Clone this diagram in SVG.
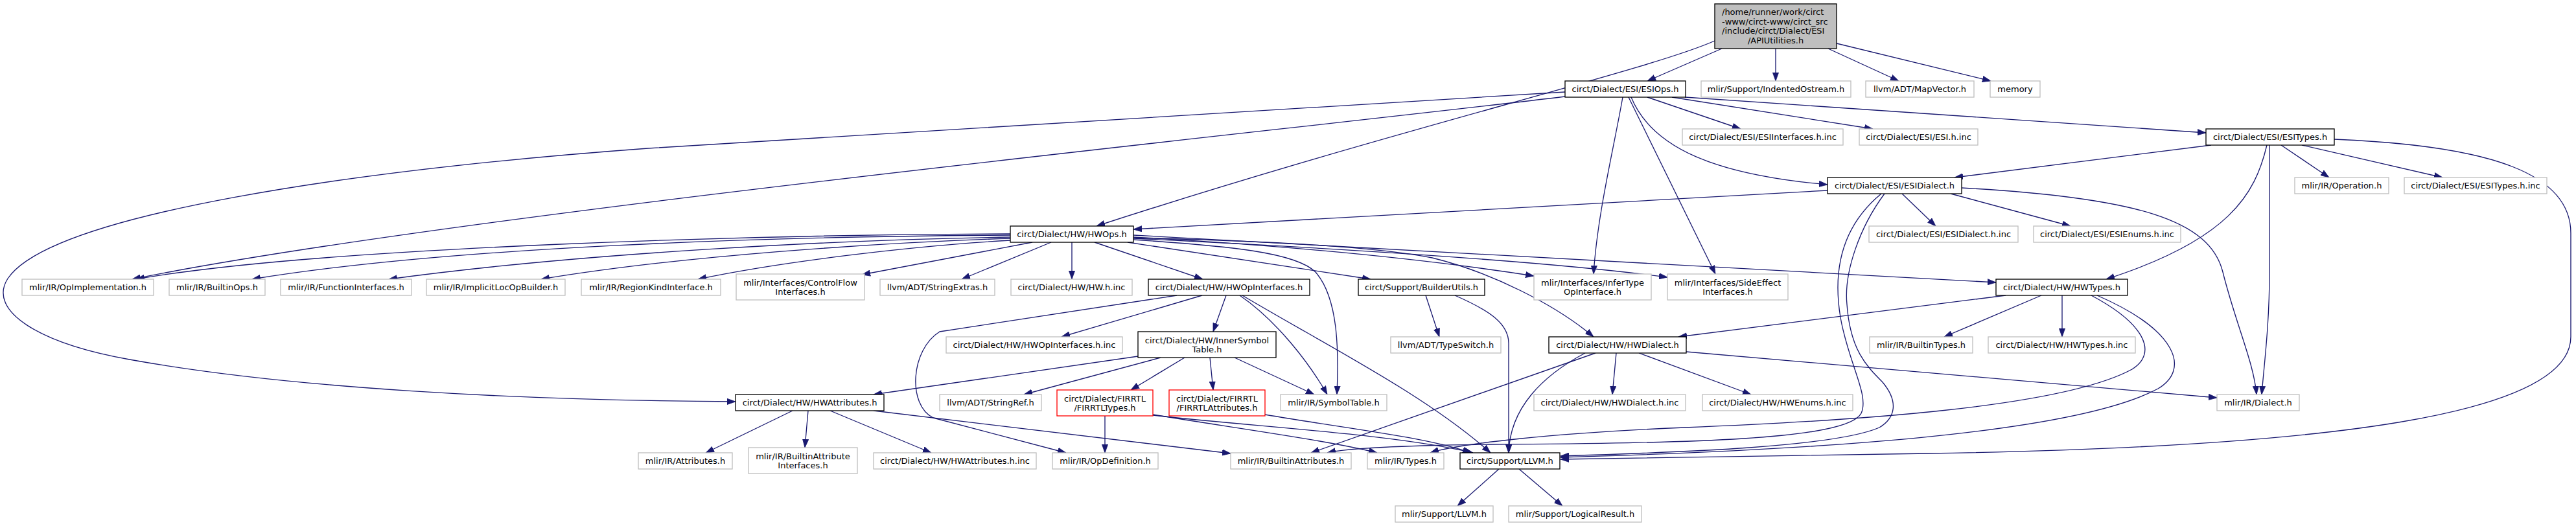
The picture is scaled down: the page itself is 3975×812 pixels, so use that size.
<svg xmlns="http://www.w3.org/2000/svg" width="3975" height="812" viewBox="0 0 3975 812">
<style>
.n rect{fill:#ffffff;stroke:#bfbfbf;stroke-width:1.33}
.d rect{stroke:#000000}
.r rect{stroke:#ff0000}
.root rect{fill:#bfbfbf;stroke:#000000}
text{font-family:"DejaVu Sans","Liberation Sans",sans-serif;font-size:13px;fill:#000000;text-anchor:middle}
text.l{text-anchor:start}
#edges path{fill:none;stroke:#191970;stroke-width:1.33;marker-end:url(#ah)}
</style>
<defs>
<marker id="ah" viewBox="0 0 13 10" refX="13" refY="5" markerWidth="13" markerHeight="10" markerUnits="userSpaceOnUse" orient="auto">
<path d="M0,0.4 L13,5 L0,9.6 z" fill="#191970" stroke="#191970" stroke-width="0.8"/>
</marker>
</defs>
<rect width="3975" height="812" fill="#ffffff"/>
<g id="edges">
<path d="M2657,75 L2542,125"/>
<path d="M2740,75 L2740,125"/>
<path d="M2821,75 L2930,125"/>
<path d="M2834,67 L3072,125"/>
<path d="M2646,63 C2540,110 2150,200 1692,349"/>
<path d="M2542,150 L2686,199"/>
<path d="M2580,150 L2890,199"/>
<path d="M2600,150 L3404,205"/>
<path d="M2517,150 C2550,230 2650,270 2820,285"/>
<path d="M2504,150 C2490,230 2465,330 2459,423"/>
<path d="M2513,150 L2647,423"/>
<path d="M2415,149 C2000,200 700,330 204,431"/>
<path d="M2415,142 C1900,172 1400,200 1000,229 C550,262 80,330 12,430 C-20,480 60,530 200,555 C450,600 800,618 1135,620"/>
<path d="M3412,224 L3016,274"/>
<path d="M3520,224 L3594,274"/>
<path d="M3552,224 L3769,274"/>
<path d="M3498,224 C3480,300 3440,370 3250,431"/>
<path d="M3502,224 L3502,420 C3502,500 3494,560 3490,609"/>
<path d="M3602,215 C3850,225 3967,270 3967,360 L3967,520 C3967,640 3600,690 2975,700 L2408,709"/>
<path d="M2935,299 L2987,349"/>
<path d="M3010,299 L3195,349"/>
<path d="M2820,294 L1749,354"/>
<path d="M3027,290 C3300,305 3410,340 3430,420 C3450,500 3478,560 3482,609"/>
<path d="M2903,299 C2835,355 2830,430 2840,490 C2852,560 2885,610 2872,638 C2850,680 2600,684 2300,686 C2150,688 2080,692 2048,699"/>
<path d="M2908,299 C2870,350 2845,420 2850,470 C2855,540 2880,565 2905,590 C2930,620 2925,645 2900,660 C2830,690 2600,698 2408,704"/>
<path d="M1559,361 C1200,362 500,380 210,431"/>
<path d="M1559,363 C1200,365 700,380 389,431"/>
<path d="M1559,366 C1300,370 900,390 600,431"/>
<path d="M1559,368 C1350,375 1050,395 835,431"/>
<path d="M1559,371 C1400,380 1200,405 1077,431"/>
<path d="M1593,374 L1330,424"/>
<path d="M1622,374 L1484,431"/>
<path d="M1654,374 L1654,431"/>
<path d="M1689,374 L1856,431"/>
<path d="M1740,374 L2115,431"/>
<path d="M1749,366 C2000,380 2200,400 2367,426"/>
<path d="M1749,368 C2100,385 2400,405 2573,428"/>
<path d="M1749,363 L3080,436"/>
<path d="M1749,367 C1950,372 2120,380 2210,398 C2300,420 2400,470 2459,520"/>
<path d="M1749,370 C1900,380 2000,390 2030,420 C2065,460 2066,540 2063,609"/>
<path d="M1855,456 L1638,520"/>
<path d="M1892,456 L1872,512"/>
<path d="M1816,456 L1450,512 C1405,540 1400,625 1440,645 L1645,699"/>
<path d="M1913,456 C1970,495 2020,560 2048,609"/>
<path d="M1917,456 C2050,535 2200,610 2300,699"/>
<path d="M1756,550 L1348,609"/>
<path d="M1791,552 L1580,609"/>
<path d="M1828,552 L1745,602"/>
<path d="M1867,552 L1872,602"/>
<path d="M1905,552 L2028,609"/>
<path d="M1705,642 L1705,699"/>
<path d="M1779,640 C1900,660 2050,680 2125,699"/>
<path d="M1779,641 C1950,660 2150,670 2273,699"/>
<path d="M1952,640 C2100,665 2200,675 2270,699"/>
<path d="M1223,634 L1089,699"/>
<path d="M1247,634 L1242,691"/>
<path d="M1281,634 L1437,699"/>
<path d="M1348,634 L1899,700"/>
<path d="M2200,456 L2221,520"/>
<path d="M2245,456 C2300,480 2328,500 2328,530 L2328,699"/>
<path d="M2494,545 L2488,609"/>
<path d="M2529,545 L2702,609"/>
<path d="M2602,543 L3421,614"/>
<path d="M2462,545 L2023,699"/>
<path d="M2446,545 C2380,580 2330,630 2328,699"/>
<path d="M3095,456 L2590,520"/>
<path d="M3150,456 L3000,520"/>
<path d="M3182,456 L3182,520"/>
<path d="M3227,456 C3310,500 3330,545 3290,570 C3180,630 2850,650 2600,660 C2400,668 2250,685 2207,699"/>
<path d="M3236,456 C3360,510 3380,570 3330,600 C3200,670 2800,695 2408,706"/>
<path d="M2313,724 L2249,781"/>
<path d="M2344,724 L2411,781"/>
</g>
<g id="root" class="n root"><rect x="2646" y="6" width="188" height="69"/><text class="l" x="2657" y="23">/home/runner/work/circt</text><text class="l" x="2657" y="37.5">-www/circt-www/circt_src</text><text class="l" x="2657" y="52">/include/circt/Dialect/ESI</text><text x="2740" y="66.5">/APIUtilities.h</text></g>
<g id="esiops" class="n d"><rect x="2415" y="125" width="186" height="25"/><text x="2508" y="142">circt/Dialect/ESI/ESIOps.h</text></g>
<g id="indented" class="n"><rect x="2625" y="125" width="231" height="25"/><text x="2740.5" y="142">mlir/Support/IndentedOstream.h</text></g>
<g id="mapvector" class="n"><rect x="2879" y="125" width="167" height="25"/><text x="2962.5" y="142">llvm/ADT/MapVector.h</text></g>
<g id="memory" class="n"><rect x="3071" y="125" width="77" height="25"/><text x="3109.5" y="142">memory</text></g>
<g id="esiinterfaces" class="n"><rect x="2596" y="199" width="248" height="25"/><text x="2720" y="216">circt/Dialect/ESI/ESIInterfaces.h.inc</text></g>
<g id="esihinc" class="n"><rect x="2869" y="199" width="183" height="25"/><text x="2960.5" y="216">circt/Dialect/ESI/ESI.h.inc</text></g>
<g id="esitypes" class="n d"><rect x="3404" y="199" width="198" height="25"/><text x="3503" y="216">circt/Dialect/ESI/ESITypes.h</text></g>
<g id="esidialect" class="n d"><rect x="2820" y="274" width="207" height="25"/><text x="2923.5" y="291">circt/Dialect/ESI/ESIDialect.h</text></g>
<g id="operation" class="n"><rect x="3541" y="274" width="145" height="25"/><text x="3613.5" y="291">mlir/IR/Operation.h</text></g>
<g id="esitypesinc" class="n"><rect x="3710" y="274" width="220" height="25"/><text x="3820" y="291">circt/Dialect/ESI/ESITypes.h.inc</text></g>
<g id="esidialectinc" class="n"><rect x="2884" y="349" width="230" height="25"/><text x="2999" y="366">circt/Dialect/ESI/ESIDialect.h.inc</text></g>
<g id="esienums" class="n"><rect x="3138" y="349" width="227" height="25"/><text x="3251.5" y="366">circt/Dialect/ESI/ESIEnums.h.inc</text></g>
<g id="hwops" class="n d"><rect x="1559" y="349" width="190" height="25"/><text x="1654" y="366">circt/Dialect/HW/HWOps.h</text></g>
<g id="opimpl" class="n"><rect x="34" y="431" width="203" height="25"/><text x="135.5" y="448">mlir/IR/OpImplementation.h</text></g>
<g id="builtinops" class="n"><rect x="261" y="431" width="148" height="25"/><text x="335" y="448">mlir/IR/BuiltinOps.h</text></g>
<g id="funcif" class="n"><rect x="433" y="431" width="202" height="25"/><text x="534" y="448">mlir/IR/FunctionInterfaces.h</text></g>
<g id="implicitloc" class="n"><rect x="658" y="431" width="214" height="25"/><text x="765" y="448">mlir/IR/ImplicitLocOpBuilder.h</text></g>
<g id="regionkind" class="n"><rect x="897" y="431" width="215" height="25"/><text x="1004.5" y="448">mlir/IR/RegionKindInterface.h</text></g>
<g id="controlflow" class="n"><rect x="1136" y="423" width="198" height="40"/><text x="1235" y="440.5">mlir/Interfaces/ControlFlow</text><text x="1235" y="454.5">Interfaces.h</text></g>
<g id="stringextras" class="n"><rect x="1358" y="431" width="177" height="25"/><text x="1446.5" y="448">llvm/ADT/StringExtras.h</text></g>
<g id="hwhinc" class="n"><rect x="1560" y="431" width="187" height="25"/><text x="1653.5" y="448">circt/Dialect/HW/HW.h.inc</text></g>
<g id="hwopif" class="n d"><rect x="1772" y="431" width="249" height="25"/><text x="1896.5" y="448">circt/Dialect/HW/HWOpInterfaces.h</text></g>
<g id="builderutils" class="n d"><rect x="2096" y="431" width="195" height="25"/><text x="2193.5" y="448">circt/Support/BuilderUtils.h</text></g>
<g id="infertype" class="n"><rect x="2367" y="423" width="181" height="40"/><text x="2457.5" y="440.5">mlir/Interfaces/InferType</text><text x="2457.5" y="454.5">OpInterface.h</text></g>
<g id="sideeffect" class="n"><rect x="2573" y="423" width="186" height="40"/><text x="2666" y="440.5">mlir/Interfaces/SideEffect</text><text x="2666" y="454.5">Interfaces.h</text></g>
<g id="hwtypes" class="n d"><rect x="3080" y="431" width="203" height="25"/><text x="3181.5" y="448">circt/Dialect/HW/HWTypes.h</text></g>
<g id="hwopifinc" class="n"><rect x="1460" y="520" width="272" height="25"/><text x="1596" y="537">circt/Dialect/HW/HWOpInterfaces.h.inc</text></g>
<g id="innersym" class="n d"><rect x="1756" y="512" width="213" height="40"/><text x="1862.5" y="529.5">circt/Dialect/HW/InnerSymbol</text><text x="1862.5" y="543.5">Table.h</text></g>
<g id="typeswitch" class="n"><rect x="2146" y="520" width="170" height="25"/><text x="2231" y="537">llvm/ADT/TypeSwitch.h</text></g>
<g id="hwdialect" class="n d"><rect x="2390" y="520" width="212" height="25"/><text x="2496" y="537">circt/Dialect/HW/HWDialect.h</text></g>
<g id="builtintypes" class="n"><rect x="2885" y="520" width="159" height="25"/><text x="2964.5" y="537">mlir/IR/BuiltinTypes.h</text></g>
<g id="hwtypesinc" class="n"><rect x="3068" y="520" width="227" height="25"/><text x="3181.5" y="537">circt/Dialect/HW/HWTypes.h.inc</text></g>
<g id="hwattrs" class="n d"><rect x="1135" y="609" width="229" height="25"/><text x="1249.5" y="626">circt/Dialect/HW/HWAttributes.h</text></g>
<g id="stringref" class="n"><rect x="1450" y="609" width="157" height="25"/><text x="1528.5" y="626">llvm/ADT/StringRef.h</text></g>
<g id="firrtltypes" class="n r"><rect x="1631" y="602" width="148" height="40"/><text x="1705" y="619.5">circt/Dialect/FIRRTL</text><text x="1705" y="633.5">/FIRRTLTypes.h</text></g>
<g id="firrtlattrs" class="n r"><rect x="1804" y="602" width="148" height="40"/><text x="1878" y="619.5">circt/Dialect/FIRRTL</text><text x="1878" y="633.5">/FIRRTLAttributes.h</text></g>
<g id="symboltable" class="n"><rect x="1976" y="609" width="164" height="25"/><text x="2058" y="626">mlir/IR/SymbolTable.h</text></g>
<g id="hwdialectinc" class="n"><rect x="2367" y="609" width="234" height="25"/><text x="2484" y="626">circt/Dialect/HW/HWDialect.h.inc</text></g>
<g id="hwenums" class="n"><rect x="2627" y="609" width="232" height="25"/><text x="2743" y="626">circt/Dialect/HW/HWEnums.h.inc</text></g>
<g id="dialect" class="n"><rect x="3421" y="609" width="127" height="25"/><text x="3484.5" y="626">mlir/IR/Dialect.h</text></g>
<g id="attributes" class="n"><rect x="985" y="699" width="145" height="25"/><text x="1057.5" y="716">mlir/IR/Attributes.h</text></g>
<g id="builtinattrif" class="n"><rect x="1155" y="691" width="168" height="40"/><text x="1239" y="708.5">mlir/IR/BuiltinAttribute</text><text x="1239" y="722.5">Interfaces.h</text></g>
<g id="hwattrsinc" class="n"><rect x="1348" y="699" width="251" height="25"/><text x="1473.5" y="716">circt/Dialect/HW/HWAttributes.h.inc</text></g>
<g id="opdef" class="n"><rect x="1624" y="699" width="163" height="25"/><text x="1705.5" y="716">mlir/IR/OpDefinition.h</text></g>
<g id="builtinattrs" class="n"><rect x="1899" y="699" width="186" height="25"/><text x="1992" y="716">mlir/IR/BuiltinAttributes.h</text></g>
<g id="types" class="n"><rect x="2110" y="699" width="118" height="25"/><text x="2169" y="716">mlir/IR/Types.h</text></g>
<g id="llvm" class="n d"><rect x="2253" y="699" width="154" height="25"/><text x="2330" y="716">circt/Support/LLVM.h</text></g>
<g id="mlirllvm" class="n"><rect x="2153" y="781" width="151" height="25"/><text x="2228.5" y="798">mlir/Support/LLVM.h</text></g>
<g id="logicalresult" class="n"><rect x="2328" y="781" width="205" height="25"/><text x="2430.5" y="798">mlir/Support/LogicalResult.h</text></g>
</svg>
